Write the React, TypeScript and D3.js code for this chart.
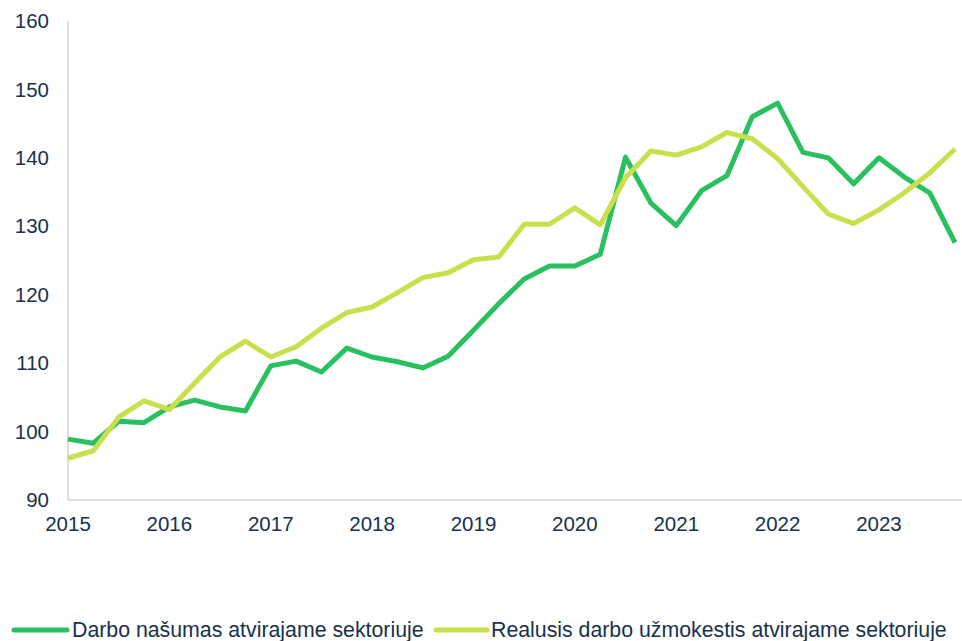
import React from "react";
import * as d3 from "d3";

const years = [2015, 2016, 2017, 2018, 2019, 2020, 2021, 2022, 2023];
const yTicks = [90, 100, 110, 120, 130, 140, 150, 160];
const seriesNames = ["Darbo našumas atvirajame sektoriuje", "Realusis darbo užmokestis atvirajame sektoriuje"];
const productivity = [
  98.9, 98.3, 101.5, 101.3,
  103.6, 104.6, 103.6, 103.0,
  109.6, 110.3, 108.7, 112.2,
  110.9, 110.2, 109.3, 111.0,
  114.8, 118.7, 122.3, 124.2,
  124.2, 125.9, 140.1, 133.4,
  130.1, 135.2, 137.4, 146.0,
  148.0, 140.8, 140.0, 136.2,
  140.0, 137.2, 134.9, 127.6,
];
const realWage = [
  96.1, 97.2, 102.1, 104.5,
  103.2, 107.1, 110.9, 113.2,
  110.9, 112.4, 115.1, 117.4,
  118.2, 120.3, 122.5, 123.2,
  125.1, 125.5, 130.3, 130.3,
  132.7, 130.2, 137.1, 141.0,
  140.4, 141.6, 143.7, 142.8,
  139.9, 135.8, 131.8, 130.4,
  132.4, 134.9, 137.8, 141.3,
];
const colors = ["#29C15F", "#C9DF4C"];

export default function App() {
  const W = 962, H = 641;
  const x0 = 68, x1 = 955;
  const x = d3.scaleLinear().domain([0, productivity.length - 1]).range([x0, x1]);
  const y = d3.scaleLinear().domain([90, 160]).range([500, 21]);
  const line = d3.line<number>().x((_, i) => x(i)).y((d) => y(d));
  const textColor = "#17324D";
  const font = "'Liberation Sans', Arial, sans-serif";
  return (
    <svg width={W} height={H} style={{ position: "absolute", left: 0, top: 0 }} fontFamily={font}>
      <line x1={x0} x2={x0} y1={y(160)} y2={y(90)} stroke="#BFBFBF" strokeWidth={1} />
      <line x1={x0} x2={W} y1={y(90)} y2={y(90)} stroke="#BFBFBF" strokeWidth={1} />
      {yTicks.map((t) => (
        <text key={t} x={49} y={y(t)} dy="0.35em" textAnchor="end" fontSize={20.5} fill={textColor}>{t}</text>
      ))}
      {years.map((yr, i) => (
        <text key={yr} x={x(i * 4)} y={524} dy="0.35em" textAnchor="middle" fontSize={20.5} fill={textColor}>{yr}</text>
      ))}
      {[productivity, realWage].map((s, k) => (
        <path key={k} d={line(s) || ""} fill="none" stroke={colors[k]} strokeWidth={5} strokeLinejoin="round" strokeLinecap="butt" />
      ))}
      <line x1={14} x2={67} y1={630} y2={630} stroke={colors[0]} strokeWidth={5} strokeLinecap="round" />
      <text x={72} y={630} dy="0.35em" fontSize={21.3} fill={textColor}>{seriesNames[0]}</text>
      <line x1={436} x2={487} y1={630} y2={630} stroke={colors[1]} strokeWidth={5} strokeLinecap="round" />
      <text x={491} y={630} dy="0.35em" fontSize={21.3} fill={textColor}>{seriesNames[1]}</text>
    </svg>
  );
}
